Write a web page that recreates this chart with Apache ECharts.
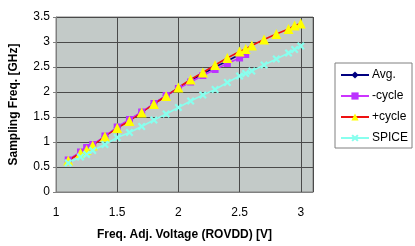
<!DOCTYPE html>
<html><head><meta charset="utf-8">
<script src="https://cdn.jsdelivr.net/npm/echarts@6/dist/echarts.min.js"></script>
<style>html,body{margin:0;padding:0;background:#fff}#c{width:415px;height:246px}</style>
</head><body><div id="c"></div>
<script>
var xAll = [1.1,1.2,1.25,1.3,1.4,1.5,1.6,1.7,1.8,1.9,2.0,2.1,2.2,2.3,2.4,2.5,2.55,2.6,2.7,2.8,2.9,2.95,3.0];
var xPart = [1.1,1.2,1.25,1.3,1.4,1.5,1.6,1.7,1.8,1.9,2.0,2.1,2.2,2.3,2.4,2.5,2.55];
var avgVals = [0.635,0.79,0.865,0.94,1.115,1.29,1.435,1.595,1.765,1.925,2.08,2.23,2.36,2.5,2.62,2.75,2.8];
var minusVals = [0.64,0.80,0.89,0.95,1.12,1.30,1.45,1.60,1.77,1.93,2.07,2.20,2.33,2.45,2.57,2.68,2.75];
var plusVals = [0.63,0.78,0.84,0.93,1.11,1.28,1.42,1.59,1.76,1.92,2.09,2.25,2.39,2.54,2.68,2.81,2.86,2.93,3.05,3.16,3.26,3.33,3.37];
var spiceVals = [0.58,0.70,0.75,0.83,0.95,1.09,1.19,1.31,1.44,1.56,1.69,1.82,1.94,2.05,2.19,2.32,2.37,2.42,2.54,2.66,2.78,2.85,2.92];
var seriesNames = ['Avg.','-cycle','+cycle','SPICE'];
var xTitle = 'Freq. Adj. Voltage (ROVDD) [V]';
var yTitle = 'Sampling Freq. [GHz]';

function pairs(xs, ys){ return ys.map(function(v,i){ return [xs[i], v]; }); }
var crossPath = 'path://M2,0L5,3L8,0L10,2L7,5L10,8L8,10L5,7L2,10L0,8L3,5L0,2Z';
var font = 'Liberation Sans, Arial, sans-serif';

var chart = echarts.init(document.getElementById('c'), null, {renderer:'canvas'});
chart.setOption({
  animation:false,
  textStyle:{fontFamily:font},
  grid:{left:52, top:17, right:102, bottom:53, show:true, backgroundColor:'#c3cac8', borderColor:'#808080', borderWidth:1},
  legend:{
    orient:'vertical', left:335, top:63, width:77,
    backgroundColor:'#fff', borderColor:'#808080', borderWidth:1,
    padding:[6,4,4,5], itemGap:9, itemWidth:28, itemHeight:9,
    textStyle:{fontFamily:font, fontSize:12, color:'#000', padding:[0,0,0,-2]},
    data:seriesNames
  },
  xAxis:{
    type:'value', min:1, max:3.1, interval:0.5,
    name:xTitle, nameLocation:'middle', nameGap:37,
    nameTextStyle:{fontFamily:font, fontSize:12, fontWeight:'bold', color:'#000'},
    axisLine:{show:true, onZero:false, lineStyle:{color:'#808080'}},
    axisTick:{show:false},
    axisLabel:{margin:15, fontSize:12, color:'#000', fontFamily:font,
      formatter:function(v){ return (Math.abs(v*2-Math.round(v*2))<1e-6) ? String(v) : ''; }},
    splitLine:{show:true, lineStyle:{color:'#4a4a4a', width:1}}
  },
  yAxis:{
    type:'value', min:0, max:3.5, interval:0.5,
    name:yTitle, nameLocation:'middle', nameGap:36,
    nameTextStyle:{fontFamily:font, fontSize:12, fontWeight:'bold', color:'#000'},
    axisLine:{show:true, lineStyle:{color:'#808080'}},
    axisTick:{show:true, length:3, lineStyle:{color:'#808080'}},
    axisLabel:{margin:6, fontSize:12, color:'#000', fontFamily:font},
    splitLine:{show:true, lineStyle:{color:'#4a4a4a', width:1}}
  },
  series:[
    {name:seriesNames[0], type:'line', data:pairs(xPart, avgVals), symbol:'diamond', symbolSize:7,
      lineStyle:{color:'#000080', width:1.5}, itemStyle:{color:'#000080'}},
    {name:seriesNames[1], type:'line', data:pairs(xPart, minusVals), symbol:'rect', symbolSize:7,
      lineStyle:{color:'#cc33ff', width:1.5}, itemStyle:{color:'#bb33ff'}},
    {name:seriesNames[2], type:'line', data:pairs(xAll, plusVals), symbol:'triangle', symbolSize:10,
      lineStyle:{color:'#ee1111', width:1.5}, itemStyle:{color:'#ffff00'}},
    {name:seriesNames[3], type:'line', data:pairs(xAll, spiceVals), symbol:crossPath, symbolSize:8,
      lineStyle:{color:'#88ffee', width:1.5}, itemStyle:{color:'#88ffee'}}
  ]
});
</script></body></html>
